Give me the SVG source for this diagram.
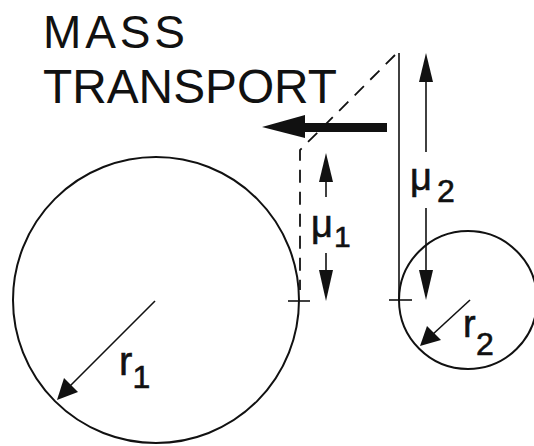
<svg xmlns="http://www.w3.org/2000/svg" width="534" height="446" viewBox="0 0 534 446">
<defs>
<style>
.ln{stroke:#111;fill:none;stroke-width:1.6}
.circ{stroke:#111;fill:none;stroke-width:2}
.dash{stroke:#111;fill:none;stroke-width:1.8;stroke-dasharray:13 9}
.t{font-family:"Liberation Sans",Arial,sans-serif;fill:#111}
.lb{stroke:#111;stroke-width:0.6}
.head{fill:#111}
</style>
</defs>
<rect width="534" height="446" fill="#fff"/>
<g id="title">
<text class="t" x="43" y="48" font-size="46" textLength="142" lengthAdjust="spacing">MASS</text>
<text class="t" x="43" y="103" font-size="48" textLength="294" lengthAdjust="spacingAndGlyphs">TRANSPORT</text>
</g>
<g id="particle1">
<circle class="circ" cx="156" cy="300" r="143"/>
<line class="ln" x1="288" y1="301" x2="310" y2="301"/>
<line class="ln" x1="155" y1="301" x2="70" y2="386"/>
<polygon class="head" points="57,400 64,378 78,392"/>
<text class="t lb" x="119" y="375" font-size="40">r</text>
<text class="t lb" x="132.5" y="388" font-size="32">1</text>
</g>
<g id="particle2">
<circle class="circ" cx="468" cy="300" r="69"/>
<line class="ln" x1="389" y1="300" x2="412" y2="300"/>
<line class="ln" x1="470" y1="300" x2="432" y2="335"/>
<polygon class="head" points="420,346 427,326 441,340"/>
<text class="t lb" x="463" y="337" font-size="38">r</text>
<text class="t lb" x="476" y="355" font-size="32">2</text>
</g>
<g id="connectors">
<path class="dash" d="M395,55 L300,150 L300,290"/>
<line class="ln" x1="399" y1="53" x2="399" y2="300"/>
<rect x="305" y="123" width="82" height="9" fill="#111"/>
<polygon class="head" points="262,127 305,115 305,138"/>
<line class="ln" x1="326" y1="175" x2="326" y2="197"/>
<polygon class="head" points="326,153 319,182 333,182"/>
<line class="ln" x1="326" y1="253" x2="326" y2="275"/>
<polygon class="head" points="326,301 319,270 333,270"/>
<line class="ln" x1="426" y1="75" x2="426" y2="152"/>
<polygon class="head" points="426,53 419,82 433,82"/>
<line class="ln" x1="426" y1="208" x2="426" y2="275"/>
<polygon class="head" points="426,300 419,270 433,270"/>
</g>
<g id="labels">
<text class="t lb" x="311" y="237" font-size="38">μ</text>
<text class="t lb" x="334" y="247" font-size="30">1</text>
<text class="t lb" x="410" y="190" font-size="38">μ</text>
<text class="t lb" x="437" y="202" font-size="32">2</text>
</g>
</svg>
